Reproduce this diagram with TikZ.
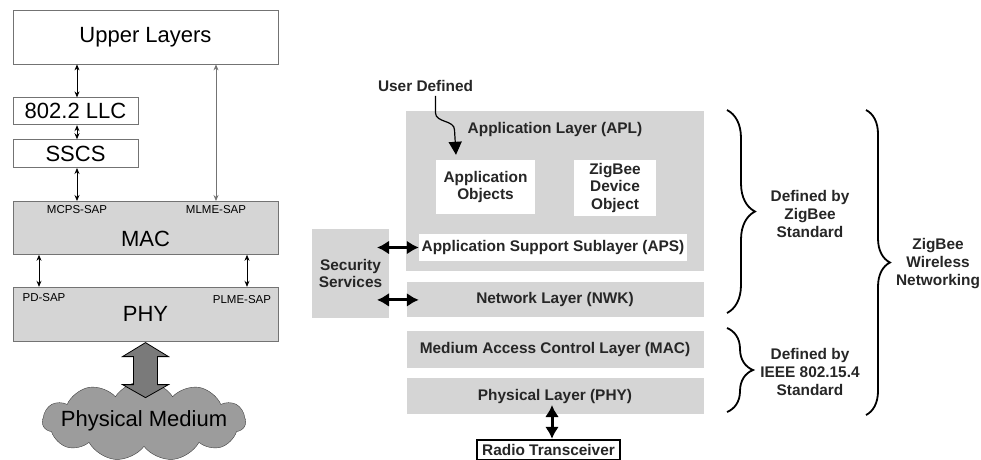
\documentclass[tikz,border=0pt]{standalone}
\usepackage{fontspec}
\setmainfont{Liberation Sans}
\usepackage{xcolor}
\definecolor{layerGray}{HTML}{D5D5D5}
\definecolor{cloudGray}{HTML}{9C9C9C}
\definecolor{arrowGray}{HTML}{7A7A7A}
\colorlet{borderGray}{black!55}
\colorlet{textDark}{black!85}
\usetikzlibrary{arrows, arrows.meta, positioning, shapes.symbols, decorations.pathreplacing}

\begin{document}
\begin{tikzpicture}[>={Stealth[length=6pt,width=5pt]}, x=1pt, y=-1pt,
  plain/.style={draw=borderGray, line width=0.8pt, fill=white, inner sep=0pt, font=\fontsize{22}{24}\selectfont},
  sap/.style={inner sep=0pt, font=\fontsize{11.5}{12}\selectfont},
  zlayer/.style={fill=layerGray, inner sep=0pt, text=textDark, align=center, font=\bfseries\fontsize{15.4}{17.5}\selectfont},
  zwhite/.style={zlayer, fill=white},
  zlabel/.style={inner sep=0pt, text=textDark, align=center, font=\bfseries\fontsize{15.4}{18}\selectfont},
  thin arrow/.style={<->, line width=0.8pt},
  fat arrow/.style={{Latex[length=12pt,width=14pt]}-{Latex[length=12pt,width=14pt]}, line width=3pt},
  curly/.style={decorate, decoration={brace, amplitude=#1}, line width=1.8pt}]
\useasboundingbox (0,0) rectangle (981,459);
% IEEE 802 stack
\node[plain, minimum width=265pt, minimum height=54pt] (upper) at (145.5,37) {Upper Layers};
\node[plain, minimum width=125pt, minimum height=27pt, below=33pt of upper.south west, anchor=north west] (llc) {802.2 LLC};
\node[plain, minimum width=125pt, minimum height=28pt, below=14pt of llc] (sscs) {SSCS};
\node[plain, fill=layerGray, minimum width=265pt, minimum height=53pt, below=33pt of sscs.south west, anchor=north west] (mac) {};
\node[plain, fill=layerGray, minimum width=265pt, minimum height=54pt, below=32pt of mac] (phy) {PHY};
\node[font=\fontsize{22}{24}\selectfont, inner sep=0pt] at ([yshift=-11pt]mac.center) {MAC};
\node[sap] (mcps) at (77,210) {MCPS-SAP};
\node[sap] (mlme) at (216,210) {MLME-SAP};
\node[sap] (pdsap) at (44,298) {PD-SAP};
\node[sap] (plme) at (242,300) {PLME-SAP};
\coordinate (pdx) at (39,0);
\coordinate (plx) at (247,0);
\draw[thin arrow] (upper.south -| mcps) -- (llc.north -| mcps);
\draw[thin arrow] (llc.south -| mcps) -- (sscs.north -| mcps);
\draw[thin arrow] (sscs.south -| mcps) -- (mac.north -| mcps);
\draw[thin arrow, black!55] (upper.south -| mlme) -- (mac.north -| mlme);
\draw[thin arrow] (mac.south -| pdx) -- (phy.north -| pdx);
\draw[thin arrow] (mac.south -| plx) -- (phy.north -| plx);
\node[cloud, cloud puffs=11, cloud puff arc=115, cloud ignores aspect, draw=black!75, fill=cloudGray, minimum width=203pt, minimum height=80pt] (medium) at (144,421) {};
\node[font=\fontsize{22}{24}\selectfont, inner sep=0pt] at (medium.center) {Physical Medium};
\draw[fill=arrowGray, line width=0.8pt] ([yshift=-1pt]phy.south) -- ++(-23pt,-14pt) -- ++(11pt,0pt) -- ++(0pt,-28pt) -- ++(-11pt,0pt) -- ++(23pt,-13pt) -- ++(23pt,13pt) -- ++(-11pt,0pt) -- ++(0pt,28pt) -- ++(11pt,0pt) -- cycle;
% ZigBee stack
\node[zlabel] (user) at (425.5,86) {User Defined};
\node[zlayer, minimum width=298pt, minimum height=160pt] (apl) at (555,191) {};
\node[zlabel] at ([yshift=-19pt]apl.north) {Application Layer (APL)};
\node[zwhite, minimum width=99pt, minimum height=54pt] (appobj) at (485.5,187) {Application\\Objects};
\node[zwhite, minimum width=82pt, minimum height=56pt] (zdo) at (615,188) {ZigBee\\Device\\Object};
\node[zwhite, minimum width=268pt, minimum height=27pt] (aps) at (553,247.5) {Application Support Sublayer (APS)};
\node[zlayer, minimum width=297pt, minimum height=35pt, below=11pt of apl] (nwk) {Network Layer (NWK)};
\node[zlayer, minimum width=297pt, minimum height=37pt, below=13pt of nwk] (zmac) {Medium Access Control Layer (MAC)};
\node[zlayer, minimum width=297pt, minimum height=36pt, below=10pt of zmac] (zphy) {Physical Layer (PHY)};
\node[zlayer, minimum width=77pt, minimum height=89pt] (sec) at (350.5,273.5) {Security\\Services};
\node[zwhite, draw=black, line width=2.4pt, minimum width=143pt, minimum height=20pt] (radio) at (548.5,450) {Radio Transceiver};
\coordinate (secx) at (377,0);
\coordinate (radiox) at (552,405);
\draw[fat arrow] (aps.west -| secx) -- (aps.west);
\draw[fat arrow] (nwk.west -| secx) -- (nwk.west -| aps.west);
\draw[fat arrow] (radiox) -- (radio.north -| radiox);
\draw[-{Triangle[length=13pt,width=13pt]}, line width=1.2pt] ([xshift=10pt,yshift=-4pt]user.south) -- ++(0pt,-17pt) to[out=-90,in=90] ++(19pt,-17pt) -- ([xshift=-29.5pt,yshift=5pt]appobj.north);
% braces
\draw[curly=28pt] (727,110) -- (727,313);
\draw[curly=26pt] (727,328) -- (727,412);
\draw[curly=24pt] (866,110) -- (866,415);
\node[zlabel] at (810,214) {Defined by\\ZigBee\\Standard};
\node[zlabel] at (810,372) {Defined by\\IEEE 802.15.4\\Standard};
\node[zlabel] at (938,264) {ZigBee\\Wireless\\Networking};
\end{tikzpicture}
\end{document}
